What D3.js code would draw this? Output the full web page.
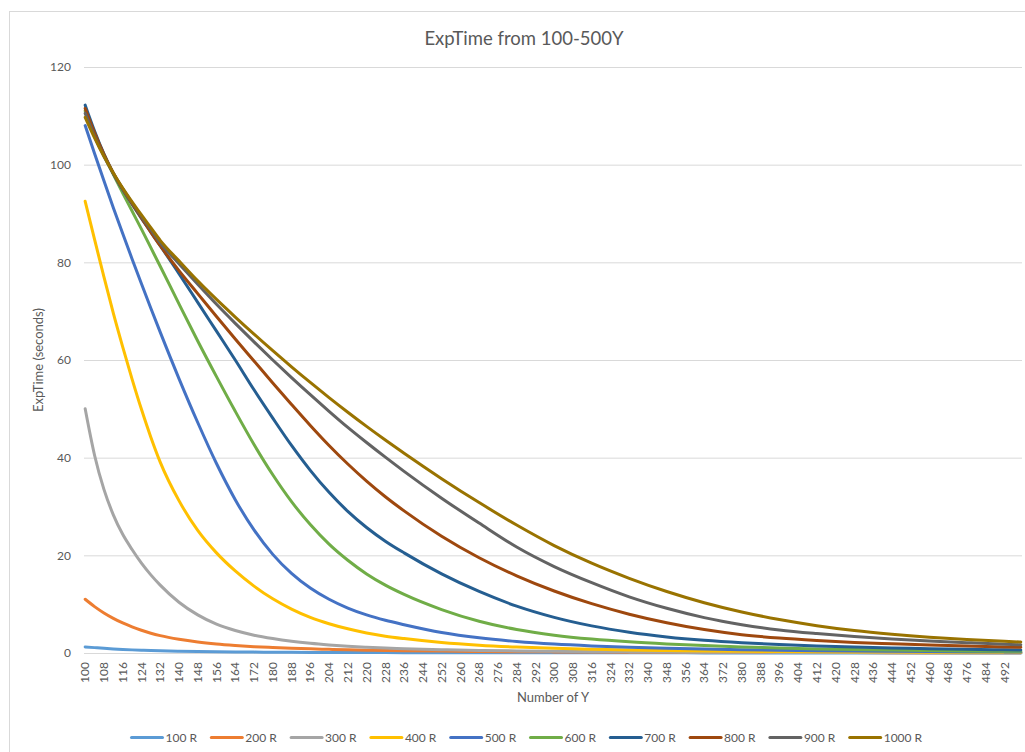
<!DOCTYPE html>
<html>
<head>
<meta charset="utf-8">
<script src="https://cdn.jsdelivr.net/npm/d3@7"></script>
<style>
  html, body { margin: 0; padding: 0; background: #fff; }
  svg text { font-family: Lato, "Open Sans", sans-serif; fill: #595959; }
</style>
</head>
<body>
<svg id="chart" width="1025" height="752"></svg>
<script>
// ---- data -------------------------------------------------------------
// Category axis: Y = 100 … 499
const categories = d3.range(100, 500);
const xTickLabels = [100,108,116,124,132,140,148,156,164,172,180,188,196,204,212,220,228,236,244,252,
                     260,268,276,284,292,300,308,316,324,332,340,348,356,364,372,380,388,396,404,412,
                     420,428,436,444,452,460,468,476,484,492];
const yTicks = [0, 20, 40, 60, 80, 100, 120];

// Y values at which ExpTime was sampled
const sampleY = [100,104,108,112,116,120,124,128,132,140,148,156,164,172,180,188,196,204,212,220,
                 228,236,252,268,284,300,316,332,348,364,380,396,412,428,444,460,476,492,499];

const seriesNames = ["100 R","200 R","300 R","400 R","500 R","600 R","700 R","800 R","900 R","1000 R"];

const r100  = [1.25,1.1,0.95,0.83,0.73,0.64,0.57,0.5,0.45,0.37,0.3,0.25,0.21,0.18,0.16,0.14,0.12,0.11,0.1,0.09,
               0.08,0.07,0.06,0.05,0.045,0.04,0.035,0.03,0.03,0.025,0.025,0.02,0.02,0.02,0.02,0.015,0.015,0.015,0.015];
const r200  = [11.0,9.5,8.2,7.1,6.15,5.35,4.65,4.05,3.55,2.8,2.25,1.85,1.55,1.3,1.12,0.97,0.85,0.75,0.66,0.58,
               0.52,0.47,0.39,0.32,0.27,0.23,0.2,0.17,0.15,0.13,0.115,0.1,0.09,0.08,0.07,0.065,0.06,0.055,0.05];
const r300  = [50,40.5,33.5,28.3,24.3,21.2,18.4,16.0,13.9,10.4,7.8,5.9,4.6,3.65,2.95,2.4,1.98,1.65,1.38,1.17,
               1.0,0.87,0.67,0.52,0.42,0.34,0.28,0.23,0.19,0.16,0.14,0.12,0.1,0.09,0.08,0.07,0.06,0.055,0.05];
const r400  = [92.5,84.7,77.0,69.6,62.7,56.1,49.9,44.2,39.1,31.2,25.1,20.5,16.8,13.7,11.1,9.0,7.3,6.0,4.95,4.1,
               3.45,2.95,2.15,1.6,1.22,0.95,0.76,0.61,0.5,0.41,0.34,0.29,0.25,0.215,0.19,0.165,0.145,0.13,0.12];
const r500  = [108,102.3,96.7,91.2,85.9,80.7,75.6,70.6,65.7,56.2,47.2,38.8,31.4,25.2,20.2,16.3,13.3,11.0,9.2,7.8,
               6.7,5.8,4.2,3.1,2.35,1.82,1.45,1.17,0.96,0.8,0.67,0.56,0.47,0.4,0.34,0.3,0.26,0.23,0.22];
const r600  = [111.0,106.4,102.0,98.0,94.2,90.5,86.8,83.0,79.2,71.5,63.9,56.6,49.5,42.7,36.5,31.0,26.3,22.3,19.0,16.2,
               13.9,12.0,8.9,6.5,4.8,3.65,2.85,2.28,1.86,1.53,1.25,1.02,0.84,0.7,0.59,0.5,0.43,0.37,0.35];
const r700  = [112.2,106.9,102.2,98.2,94.9,91.9,89.0,86.2,83.4,77.7,71.8,65.9,60.0,53.9,48.1,42.5,37.4,32.9,29.0,25.7,
               22.9,20.5,16.2,12.6,9.6,7.3,5.55,4.25,3.3,2.6,2.1,1.73,1.45,1.22,1.04,0.89,0.77,0.66,0.62];
const r800  = [111.5,106.5,102.1,98.3,95.0,92.0,89.1,86.2,83.4,78.3,73.6,68.9,64.3,59.8,55.3,50.9,46.6,42.5,38.7,35.2,
               32.0,29.1,23.9,19.5,15.8,12.7,10.1,7.95,6.2,4.8,3.75,3.05,2.55,2.15,1.88,1.64,1.43,1.24,1.16];
const r900  = [110.5,105.8,101.7,98.2,95.1,92.2,89.4,86.7,84.0,79.7,75.5,71.4,67.5,63.7,60.0,56.4,52.9,49.5,46.2,43.1,
               40.1,37.2,31.7,26.6,21.7,17.7,14.4,11.5,9.15,7.25,5.8,4.72,3.97,3.36,2.88,2.48,2.12,1.8,1.68];
const r1000 = [109.7,105.5,101.7,98.3,95.2,92.4,89.7,87.1,84.5,80.3,76.2,72.4,68.8,65.3,61.9,58.6,55.4,52.3,49.3,46.4,
               43.6,40.9,35.7,30.8,26.2,22.0,18.4,15.3,12.6,10.3,8.4,6.85,5.6,4.6,3.85,3.25,2.78,2.4,2.25];

const seriesValues = [r100, r200, r300, r400, r500, r600, r700, r800, r900, r1000];
const seriesColors = ["#5B9BD5","#ED7D31","#A5A5A5","#FFC000","#4472C4",
                      "#70AD47","#255E91","#9E480E","#636363","#997300"];

// ---- layout -----------------------------------------------------------
const plot = { left: 84, right: 1022, top: 67, bottom: 653 };

const svg = d3.select("#chart");

// chart area frame
svg.append("rect")
  .attr("x", 9.5).attr("y", 11.5)
  .attr("width", 1040).attr("height", 780)
  .attr("fill", "#fff").attr("stroke", "#d9d9d9");

const x = d3.scaleBand().domain(categories).range([plot.left, plot.right]);
const y = d3.scaleLinear().domain([0, 120]).range([plot.bottom, plot.top]);
const cx = c => x(c) + x.bandwidth() / 2;

// title
svg.append("text")
  .attr("x", 524).attr("y", 44.5)
  .attr("text-anchor", "middle")
  .style("font-size", "18.5px")
  .text("ExpTime from 100-500Y");

// value axis with gridlines
const yAxis = svg.append("g")
  .attr("transform", `translate(${plot.left},0)`)
  .call(d3.axisLeft(y).tickValues(yTicks).tickSize(-(plot.right - plot.left)).tickPadding(13));
yAxis.select(".domain").remove();
yAxis.selectAll(".tick line").attr("stroke", "#d9d9d9");
yAxis.selectAll(".tick text").style("font-size", "12px").attr("fill", "#595959");

// category axis
const xAxis = svg.append("g")
  .attr("transform", `translate(0,${plot.bottom})`)
  .call(d3.axisBottom(x).tickValues(xTickLabels).tickSize(0));
xAxis.select(".domain").attr("stroke", "#d9d9d9");
xAxis.selectAll(".tick text")
  .attr("transform", "rotate(-90)")
  .attr("text-anchor", "end")
  .attr("x", -9).attr("y", 0).attr("dy", "0.35em")
  .style("font-size", "12px").attr("fill", "#595959");

// axis titles
svg.append("text")
  .attr("transform", "translate(42.5,360) rotate(-90)")
  .attr("text-anchor", "middle")
  .style("font-size", "13px")
  .text("ExpTime (seconds)");
svg.append("text")
  .attr("x", 553).attr("y", 701.5)
  .attr("text-anchor", "middle")
  .style("font-size", "13px")
  .text("Number of Y");

// series lines
const line = d3.line()
  .x(d => cx(d.c))
  .y(d => y(d.v))
  .curve(d3.curveMonotoneX);

const lines = svg.append("g").attr("fill", "none");
seriesValues.forEach((vals, i) => {
  const pts = sampleY.map((c, k) => ({ c, v: vals[k] }));
  lines.append("path")
    .datum(pts)
    .attr("d", line)
    .attr("stroke", seriesColors[i])
    .attr("stroke-width", 3)
    .attr("stroke-linejoin", "round")
    .attr("stroke-linecap", "round");
});

// legend
const legend = svg.append("g").attr("transform", "translate(131.5,737.5)");
const item = legend.selectAll("g").data(seriesNames).join("g")
  .attr("transform", (d, i) => `translate(${i * 79.8},0)`);
item.append("line")
  .attr("x1", 0).attr("x2", 31).attr("y1", 0).attr("y2", 0)
  .attr("stroke", (d, i) => seriesColors[i])
  .attr("stroke-width", 3)
  .attr("stroke-linecap", "round");
item.append("text")
  .attr("x", 34).attr("y", 0).attr("dy", "0.35em")
  .style("font-size", "12px")
  .text(d => d);
</script>
</body>
</html>
